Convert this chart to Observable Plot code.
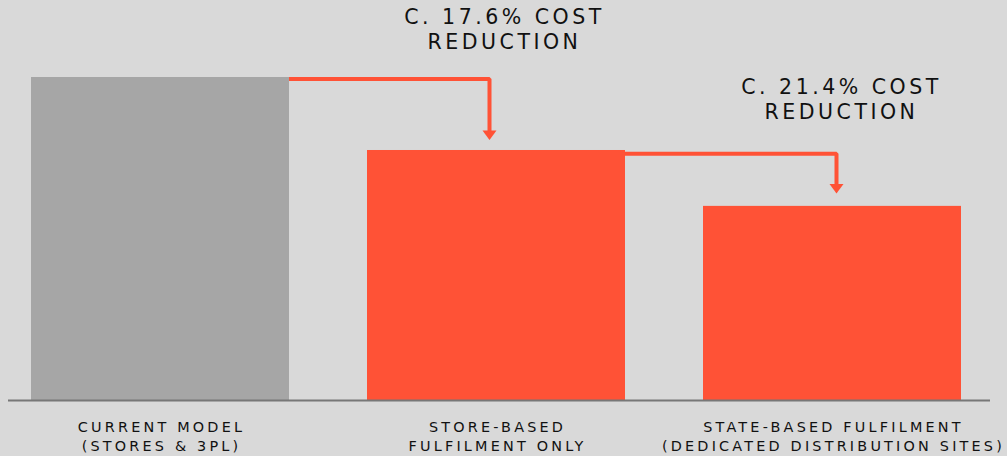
<!DOCTYPE html>
<html>
<head>
<meta charset="utf-8">
<script src="https://cdn.jsdelivr.net/npm/d3@7"></script>
<script src="https://cdn.jsdelivr.net/npm/@observablehq/plot@0.6"></script>
<style>
  html, body { margin: 0; padding: 0; background: #d9d9d9; }
  #chart svg { display: block; }
</style>
</head>
<body>
<div id="chart"></div>
<script>
// Categories (bar labels) and bar values (relative cost, current model = 100)
const categories = [
  "CURRENT MODEL\n(STORES & 3PL)",
  "STORE-BASED\nFULFILMENT ONLY",
  "STATE-BASED FULFILMENT\n(DEDICATED DISTRIBUTION SITES)"
];
const values = [100, 77.4, 60.1];
const barColors = ["#a6a6a6", "#ff5236", "#ff5236"];

// Cost-reduction annotations
const annotationText = ["C. 17.6% COST\nREDUCTION", "C. 21.4% COST\nREDUCTION"];
const annotationAt = [categories[1], categories[2]];
const annotationY = [121.9, 100.2];
const annotationDx = [8, 9];

// Arrows: from bar -> to bar, level of horizontal run, level where the head starts
const arrowFrom = [categories[0], categories[1]];
const arrowTo = [categories[1], categories[2]];
const arrowLevel = [99.5, 76.4];
const arrowHeadY = [83.6, 67.0];
const arrowDx = [-7, 4];

const bars = categories.map((c, i) => ({cat: c, value: values[i], color: barColors[i]}));

const red = "#ff5236";
const font = "'DejaVu Sans', sans-serif";

// Downward triangle head, top edge at the anchor point
const headSymbol = {
  draw(context, size) {
    const r = Math.sqrt(size / Math.PI);
    context.moveTo(-r, 0);
    context.lineTo(r, 0);
    context.lineTo(0, r * 1.35);
    context.closePath();
  }
};

const marks = [];
// arrow runs (drawn behind the bars)
arrowFrom.forEach((from, i) => {
  const pts = [
    {x: from, y: arrowLevel[i]},
    {x: arrowTo[i], y: arrowLevel[i]},
    {x: arrowTo[i], y: arrowHeadY[i] - 0.5}
  ];
  marks.push(Plot.line(pts, {
    x: "x", y: "y", dx: arrowDx[i],
    stroke: red, strokeWidth: 4, strokeLinejoin: "miter", strokeLinecap: "butt",
    curve: "linear"
  }));
  marks.push(Plot.dot([{x: arrowTo[i], y: arrowHeadY[i]}], {
    x: "x", y: "y", dx: arrowDx[i], r: 7, symbol: headSymbol, fill: red, stroke: "none"
  }));
});

marks.push(Plot.barY(bars, {x: "cat", y: "value", fill: "color"}));
marks.push(Plot.ruleY([0], {stroke: "#777777", strokeWidth: 2, insetLeft: -22, insetRight: -28}));
marks.push(Plot.axisX({
  tickSize: 0, tickPadding: 18, fontSize: 14.4, lineHeight: 1.34,
  fill: "#111", fontFamily: font, label: null, dx: 1
}));
annotationText.forEach((t, i) => {
  marks.push(Plot.text([{x: annotationAt[i], y: annotationY[i], t}], {
    x: "x", y: "y", text: "t", dx: annotationDx[i],
    lineAnchor: "top", textAnchor: "middle", lineHeight: 1.2,
    fontSize: 20.5, fill: "#111", fontFamily: font
  }));
});

const chart = Plot.plot({
  width: 1007,
  height: 456,
  marginLeft: 30,
  marginRight: 45,
  marginTop: 77,
  marginBottom: 56,
  style: {background: "#d9d9d9"},
  x: {domain: categories, paddingInner: 0.232, paddingOuter: 0, label: null},
  y: {domain: [0, 100], axis: null},
  color: {type: "identity"},
  marks
});

d3.select(chart).selectAll("text")
  .filter(function () { return this.textContent.includes("REDUCTION"); })
  .attr("letter-spacing", "3.5px");
d3.select(chart).selectAll('g[aria-label="x-axis tick label"] text')
  .attr("letter-spacing", "3.2px");

document.getElementById("chart").appendChild(chart);
</script>
</body>
</html>
